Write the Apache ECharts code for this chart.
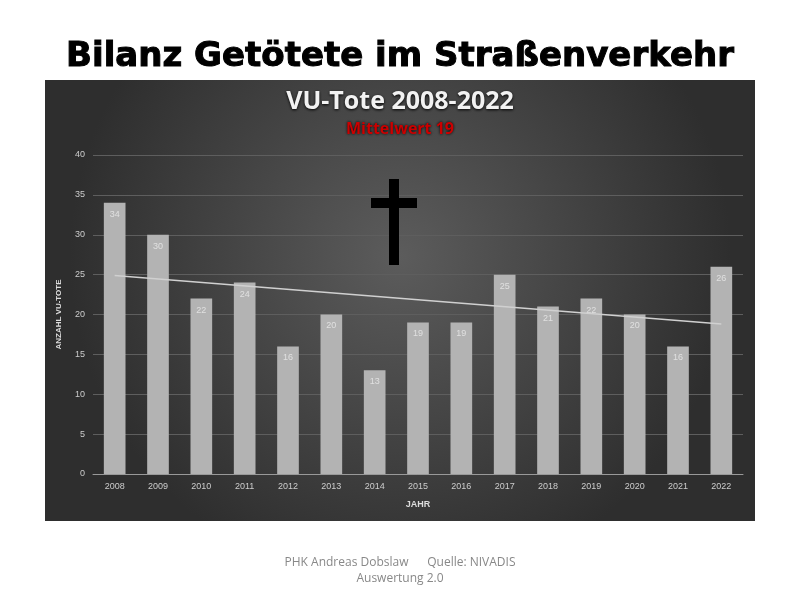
<!DOCTYPE html>
<html><head><meta charset="utf-8">
<script src="https://cdn.jsdelivr.net/npm/echarts@6/dist/echarts.min.js"></script>
<style>html,body{margin:0;padding:0;background:#fff}#c{width:800px;height:600px}</style>
</head><body><div id="c"></div>
<script>
const years = ['2008','2009','2010','2011','2012','2013','2014','2015','2016','2017','2018','2019','2020','2021','2022'];
const deaths = [34,30,22,24,16,20,13,19,19,25,21,22,20,16,26];
const trendStart = 24.9, trendEnd = 18.8;
const trend = years.map((y,i)=> i===0 ? trendStart : (i===years.length-1 ? trendEnd : null));

const chart = echarts.init(document.getElementById('c'));
chart.setOption({
  backgroundColor:'#fff',
  animation:false,
  graphic:[
    {type:'rect',z:-10,shape:{x:45,y:80,width:710,height:441},
     style:{fill:new echarts.graphic.RadialGradient(0.5,0.4,0.75,[{offset:0,color:'#5c5c5c'},{offset:1,color:'#2e2e2e'}])}},
    {type:'text',left:'center',top:40,style:{text:'Bilanz Getötete im Straßenverkehr',font:'bold 34px "DejaVu Sans"',fill:'#000',stroke:'#000',lineWidth:1}},
    {type:'text',left:'center',top:89,style:{text:'VU-Tote 2008-2022',font:'bold 25px "Open Sans"',fill:'#f2f2f2',textShadowColor:'#000',textShadowBlur:3,textShadowOffsetY:1}},
    {type:'text',left:'center',top:121,style:{text:'Mittelwert 19',font:'bold 16px "Open Sans"',fill:'#cc0000',textShadowColor:'#000',textShadowBlur:3}},
    {type:'rect',z:50,shape:{x:389,y:179,width:10,height:86},style:{fill:'#000'}},
    {type:'rect',z:50,shape:{x:371,y:198,width:46,height:10},style:{fill:'#000'}},
    {type:'text',left:'center',top:557,style:{text:'PHK Andreas Dobslaw      Quelle: NIVADIS',font:'12px "Open Sans"',fill:'#888'}},
    {type:'text',left:'center',top:573,style:{text:'Auswertung 2.0',font:'12px "Open Sans"',fill:'#888'}}
  ],
  grid:{left:93,right:57,top:155,bottom:126},
  xAxis:{type:'category',data:years,name:'JAHR',nameLocation:'middle',nameGap:26,
    nameTextStyle:{color:'#ddd',fontSize:9,fontWeight:'bold'},
    axisLine:{lineStyle:{color:'#999'}},axisTick:{show:false},
    axisLabel:{color:'#ccc',fontSize:9}},
  yAxis:{type:'value',min:0,max:40,interval:5,name:'ANZAHL VU-TOTE',nameLocation:'middle',nameGap:30,
    nameTextStyle:{color:'#ddd',fontSize:8,fontWeight:'bold'},
    axisLine:{show:false},axisTick:{show:false},
    axisLabel:{color:'#ccc',fontSize:9},
    splitLine:{lineStyle:{color:'#5e5e5e'}}},
  series:[
    {type:'bar',data:deaths,barWidth:'50%',
     itemStyle:{color:'#b3b3b3'},
     label:{show:true,position:'insideTop',color:'#e0e0e0',fontSize:9,offset:[0,2]}},
    {type:'line',data:trend,connectNulls:true,symbol:'none',z:5,
     lineStyle:{color:'#d0d0d0',width:1.5}}
  ]
});
</script></body></html>
